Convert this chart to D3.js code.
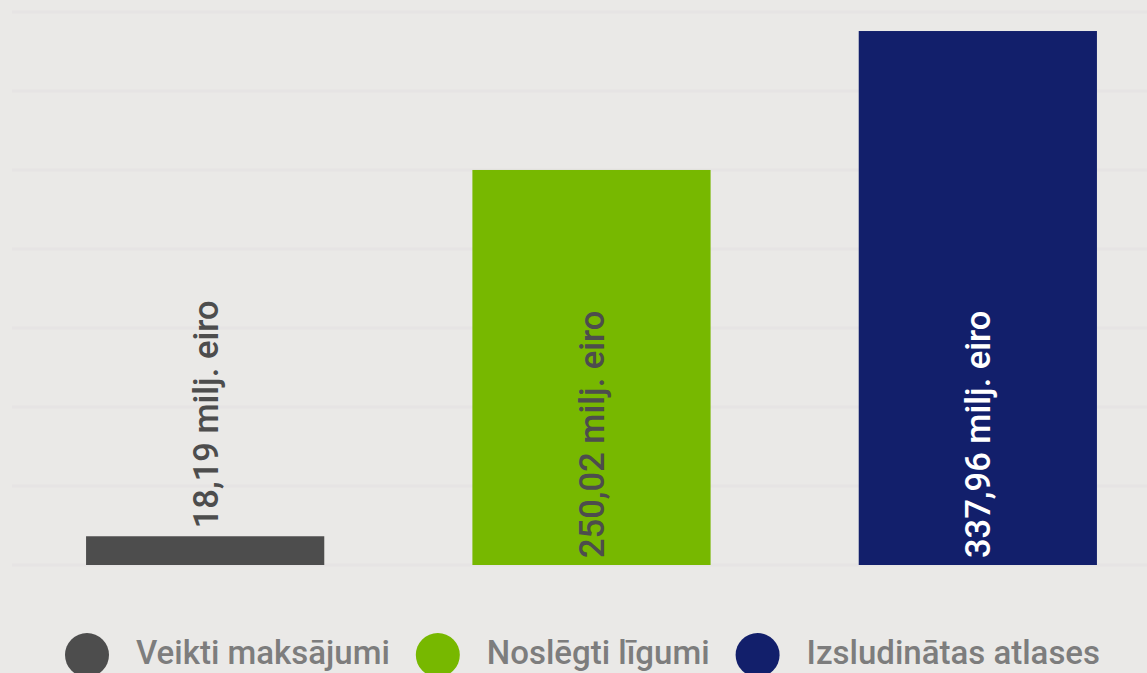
<!DOCTYPE html>
<html>
<head>
<meta charset="utf-8">
<script src="https://cdn.jsdelivr.net/npm/d3@7"></script>
<style>
	body { margin: 0; background: #eae9e7; }
	svg { display: block; font-family: Roboto, "Noto Sans", sans-serif; }
</style>
</head>
<body>
<div id="contents"></div>
<script>
// dati
var categories = ['Veikti maksājumi', 'Noslēgti līgumi', 'Izsludinātas atlases'];
var values = [18.19, 250.02, 337.96];
var labels = ['18,19 milj. eiro', '250,02 milj. eiro', '337,96 milj. eiro'];
var colors = ['#4d4d4d', '#77b800', '#121f6b'];
var labelColors = ['#4d4d4d', '#4d4d4d', '#ffffff'];
var yTicks = [0, 50, 100, 150, 200, 250, 300, 350];

var W = 1147, H = 673;

var svg = d3.select('#contents')
	.append('svg')
	.attr('width', W)
	.attr('height', H);

var x = d3.scaleBand()
	.domain(categories)
	.range([12, 1171])
	.paddingInner(148 / 386)
	.paddingOuter(74 / 386);

var y = d3.scaleLinear()
	.domain([0, 350])
	.range([565, 12]);

// rezga līnijas
svg.append('g')
	.selectAll('line')
	.data(yTicks)
	.enter()
	.append('line')
	.attr('x1', 12)
	.attr('x2', W)
	.attr('y1', function(d) { return y(d); })
	.attr('y2', function(d) { return y(d); })
	.attr('stroke', '#e6e4e4')
	.attr('stroke-width', 3);

svg.append('g')
	.selectAll('rect')
	.data(values)
	.enter()
	.append('rect')
	.attr('x', function(d, i) { return x(categories[i]); })
	.attr('y', function(d) { return y(d); })
	.attr('width', x.bandwidth())
	.attr('height', function(d) { return y(0) - y(d); })
	.attr('fill', function(d, i) { return colors[i]; });

// vērtību uzraksti
svg.append('g')
	.selectAll('text')
	.data(values)
	.enter()
	.append('text')
	.text(function(d, i) { return labels[i]; })
	.attr('font-size', 34.5)
	.attr('font-weight', 500)
	.attr('fill', function(d, i) { return labelColors[i]; })
	.attr('dy', '0.36em')
	.each(function(d, i) {
		var len = this.getComputedTextLength();
		var cx = x(categories[i]) + x.bandwidth() / 2;
		var yStart;
		if (y(0) - y(d) > len + 14)
			yStart = y(0) - 7;
		else
			yStart = y(d) - 8;
		d3.select(this).attr('transform', 'translate(' + cx + ',' + yStart + ') rotate(-90)');
	});

// leģenda
var legend = svg.append('g');
var lx = 65;
categories.forEach(function(c, i) {
	legend.append('circle')
		.attr('cx', lx + 22)
		.attr('cy', 655)
		.attr('r', 22)
		.attr('fill', colors[i]);
	var t = legend.append('text')
		.attr('x', lx + 44 + 27)
		.attr('y', 664)
		.attr('font-size', 33)
		.attr('font-weight', 500)
		.attr('fill', '#7d7d7d')
		.text(c);
	lx += 44 + 27 + t.node().getComputedTextLength() + 26;
});
</script>
</body>
</html>
